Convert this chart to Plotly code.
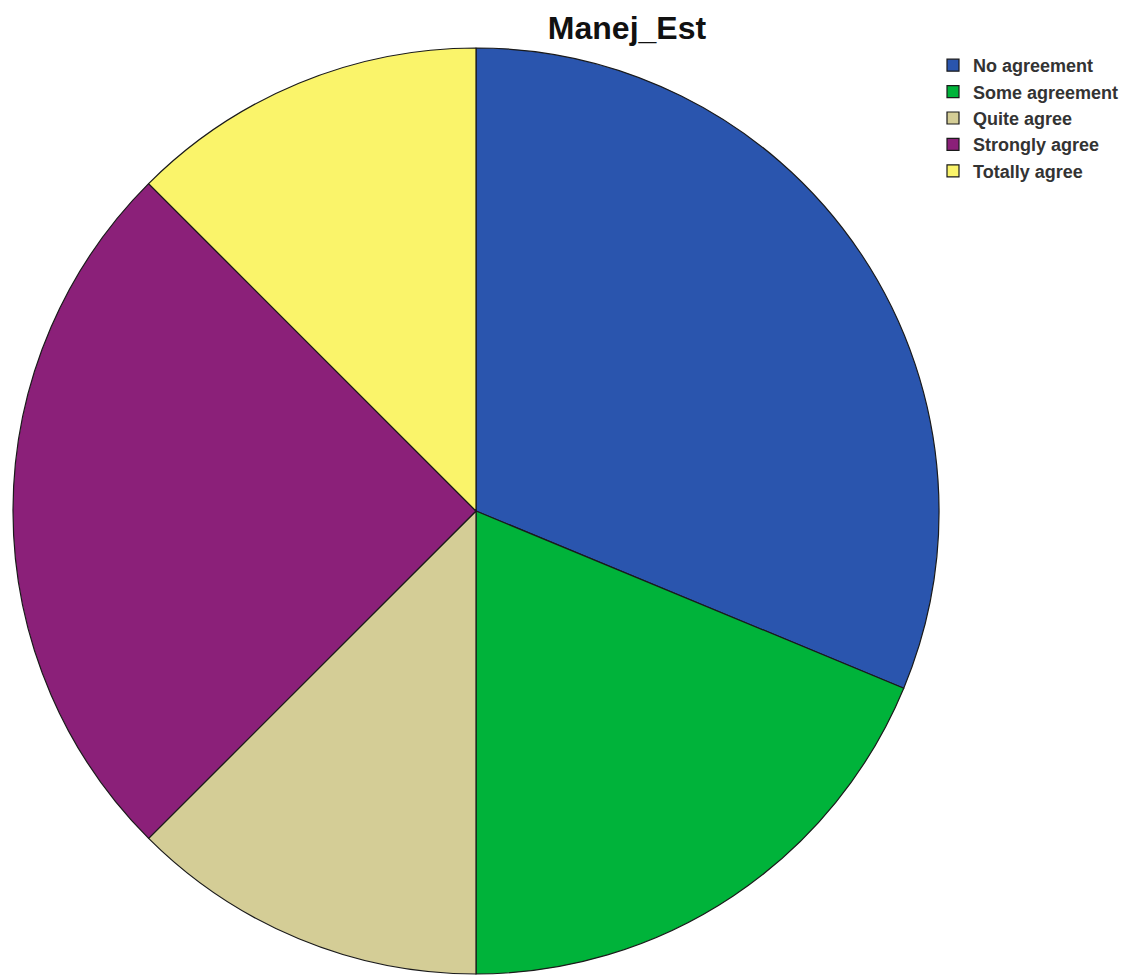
import plotly.graph_objects as go

categories = ["No agreement", "Some agreement", "Quite agree", "Strongly agree", "Totally agree"]
counts = [5, 3, 2, 4, 2]
colors = ["#2A55AE", "#00B33A", "#D4CD96", "#8B2079", "#FAF46A"]

W, H = 1145, 975
OFF = 8  # page body margin offset
fig = go.Figure(go.Pie(
    labels=categories,
    values=counts,
    sort=False,
    direction="clockwise",
    rotation=0,
    textinfo="none",
    hoverinfo="label+value+percent",
    marker=dict(colors=colors, line=dict(color="#1a1a1a", width=1.2)),
    domain=dict(x=[(13 - OFF) / W, (939 - OFF) / W], y=[1 - (974 - OFF) / H, 1 - (48 - OFF) / H]),
))
fig.update_layout(
    width=W, height=H,
    margin=dict(l=0, r=0, t=0, b=0),
    paper_bgcolor="white",
    title=dict(text="<b>Manej_Est</b>", x=(627 - OFF) / W, xanchor="center", y=1 - (28 - OFF) / H, yanchor="middle",
               font=dict(family="Liberation Sans, Arial", size=32, color="#111")),
    legend=dict(x=(925) / W, xanchor="left", y=1 - (47 - OFF) / H, yanchor="top",
                font=dict(family="Liberation Sans, Arial", size=18, color="#333", weight="bold"),
                bgcolor="rgba(0,0,0,0)", tracegroupgap=0),
)
fig.write_html("out.html")
